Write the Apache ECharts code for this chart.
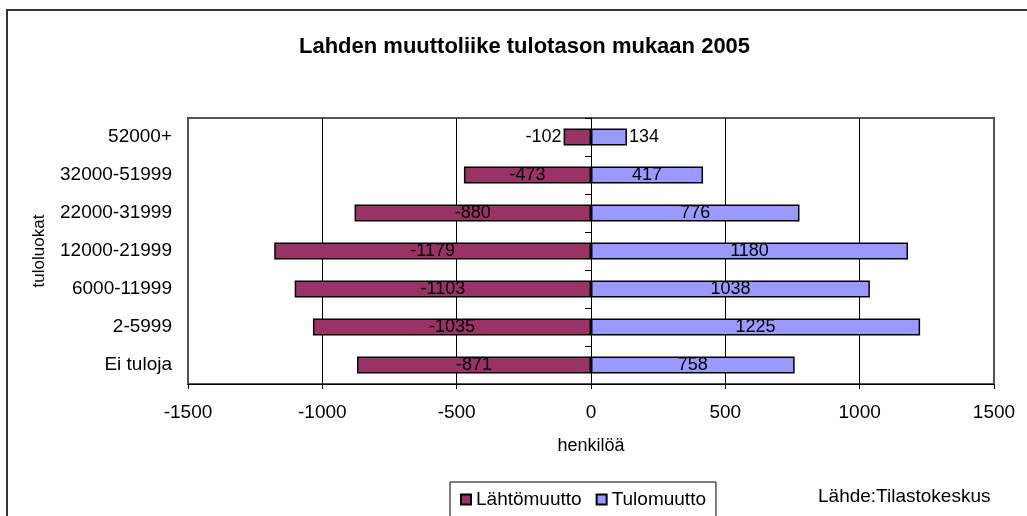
<!DOCTYPE html>
<html>
<head>
<meta charset="utf-8">
<script src="https://cdn.jsdelivr.net/npm/echarts@6/dist/echarts.min.js"></script>
<style>
  html, body { margin: 0; padding: 0; background: #fff; }
  #chart { width: 1027px; height: 516px; }
</style>
</head>
<body>
<div id="chart"></div>
<script>
// income classes, bottom -> top (category axis runs upward)
const categories = ["Ei tuloja", "2-5999", "6000-11999", "12000-21999", "22000-31999", "32000-51999", "52000+"];
const lahtomuutto = [-871, -1035, -1103, -1179, -880, -473, -102];
const tulomuutto = [758, 1225, 1038, 1180, 776, 417, 134];
const xTicks = { min: -1500, max: 1500, interval: 500 };
// categories whose labels sit beside the bar instead of inside it
const labelOutside = ["52000+"];

const FONT = "'Liberation Sans', Arial, sans-serif";

function buildData(values, sidePos) {
  return values.map(function (v, i) {
    if (labelOutside.indexOf(categories[i]) >= 0) {
      return { value: v, label: { position: sidePos, distance: 2 } };
    }
    return v;
  });
}

var myChart = echarts.init(document.getElementById("chart"));
let options = {
  animation: false,
  title: {
    text: "Lahden muuttoliike tulotason mukaan 2005",
    left: 294,
    top: 31,
    textStyle: { fontFamily: FONT, fontSize: 22, fontWeight: "bold", color: "#000" },
  },
  legend: {
    data: ["Lähtömuutto", "Tulomuutto"],
    left: 450,
    top: 482,
    orient: "horizontal",
    padding: [8, 10, 8, 10],
    itemWidth: 10,
    itemHeight: 10,
    itemGap: 14,
    borderColor: "#000",
    borderWidth: 1,
    icon: "rect",
    textStyle: { fontFamily: FONT, fontSize: 19, color: "#000" },
  },
  grid: {
    left: 188,
    right: 33,
    top: 118,
    bottom: 132,
    show: true,
    borderColor: "#555",
    borderWidth: 2,
  },
  xAxis: {
    type: "value",
    min: xTicks.min,
    max: xTicks.max,
    interval: xTicks.interval,
    name: "henkilöä",
    nameLocation: "middle",
    nameGap: 53,
    nameTextStyle: { fontFamily: FONT, fontSize: 18, color: "#000" },
    axisLine: { show: true, lineStyle: { color: "#000", width: 1 } },
    axisTick: { show: true, length: 5, lineStyle: { color: "#000" } },
    axisLabel: {
      margin: 19,
      fontFamily: FONT,
      fontSize: 19,
      color: "#000",
      formatter: function (v) { return String(v); },
    },
    splitLine: { show: true, showMinLine: false, showMaxLine: false, lineStyle: { color: "#000", width: 1 } },
  },
  yAxis: [
    {
      type: "category",
      data: categories,
      position: "left",
      name: "tuloluokat",
      nameLocation: "middle",
      nameGap: 140,
      nameTextStyle: { fontFamily: FONT, fontSize: 17, color: "#000" },
      axisLine: { show: false, onZero: false },
      axisTick: { show: false },
      axisLabel: { margin: 16, fontFamily: FONT, fontSize: 19, color: "#000" },
    },
    {
      // axis drawn at x = 0 with boundary ticks, no labels
      type: "category",
      data: categories,
      position: "left",
      axisLine: { show: true, onZero: true, lineStyle: { color: "#000", width: 1 } },
      axisTick: { show: true, length: 6, lineStyle: { color: "#000" } },
      axisLabel: { show: false },
    },
  ],
  series: [
    {
      name: "Lähtömuutto",
      type: "bar",
      data: buildData(lahtomuutto, "left"),
      barWidth: 17,
      barGap: "-100%",
      itemStyle: { color: "#993366", borderColor: "#000", borderWidth: 1.5 },
      label: { show: true, position: "inside", fontFamily: FONT, fontSize: 18, color: "#000" },
    },
    {
      name: "Tulomuutto",
      type: "bar",
      data: buildData(tulomuutto, "right"),
      barWidth: 17,
      barGap: "-100%",
      itemStyle: { color: "#9999ff", borderColor: "#000", borderWidth: 1.5 },
      label: { show: true, position: "inside", fontFamily: FONT, fontSize: 18, color: "#000" },
    },
  ],
  graphic: [
    {
      type: "rect",
      shape: { x: 7, y: 10, width: 1040, height: 530 },
      style: { fill: "none", stroke: "#333", lineWidth: 2 },
      silent: true,
    },
    {
      type: "text",
      left: 818,
      top: 487,
      style: { text: "Lähde:Tilastokeskus", font: "19px " + FONT, fill: "#000" },
    },
  ],
};
myChart.setOption(options);
</script>
</body>
</html>
